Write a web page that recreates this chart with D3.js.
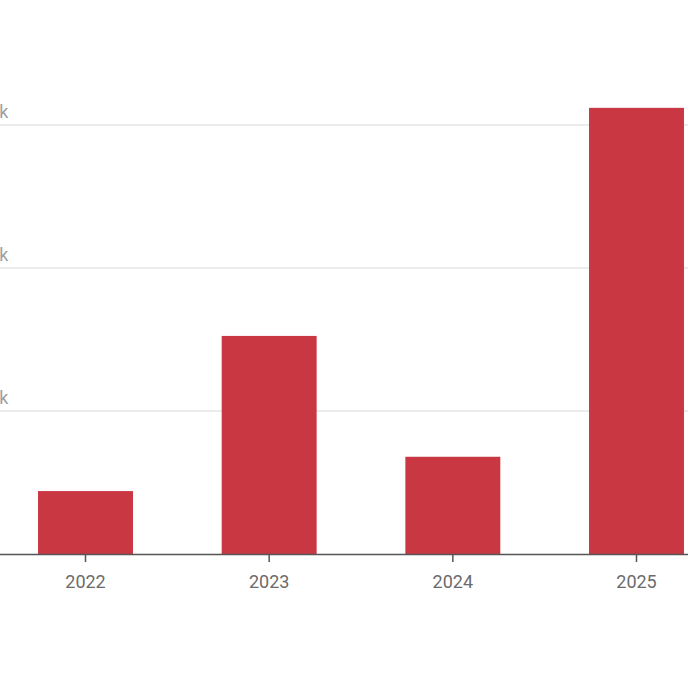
<!DOCTYPE html>
<html><head><meta charset="utf-8">
<script src="https://cdn.jsdelivr.net/npm/d3@7"></script>
<style>html,body{margin:0;padding:0;background:#fff;overflow:hidden}svg{display:block}</style>
</head><body>
<svg id="c" width="688" height="688"></svg>
<script>
const categories = ["2022","2023","2024","2025"];
const values = [440, 1525, 680, 3120];
const yTicks = [1000, 2000, 3000];
const yTickLabels = ["1k","2k","3k"];

const svg = d3.select("#c");
const x = d3.scaleBand().domain(categories).range([0, 722]).paddingInner(0.483).paddingOuter(0.207).align(0.5);
const y = d3.scaleLinear().domain([0, 3000]).range([554, 125]);

// gridlines
svg.append("g").selectAll("line").data(yTicks).join("line")
  .attr("x1", -40).attr("x2", 700)
  .attr("y1", d => y(d)).attr("y2", d => y(d))
  .attr("stroke", "#e6e6e6").attr("stroke-width", 1.5);

svg.append("g").selectAll("text").data(yTicks).join("text")
  .attr("x", 8.5).attr("y", d => y(d) - 7)
  .attr("text-anchor", "end")
  .attr("font-family", "Roboto, sans-serif").attr("font-size", 18)
  .attr("fill", "#a0a0a0")
  .text((d, i) => yTickLabels[i]);

// bars
svg.append("g").selectAll("rect").data(categories).join("rect")
  .attr("x", d => x(d)).attr("width", x.bandwidth())
  .attr("y", (d, i) => y(values[i])).attr("height", (d, i) => y(0) - y(values[i]))
  .attr("fill", "#c93742");

// x axis
const xa = svg.append("g").attr("transform", `translate(0,${y(0)})`)
  .call(d3.axisBottom(x).tickSize(8).tickPadding(13).tickSizeOuter(0));
xa.select(".domain").remove();
xa.append("line").attr("x1", -40).attr("x2", 700).attr("y1", 0.5).attr("y2", 0.5)
  .attr("stroke", "#555").attr("stroke-width", 1.5);
xa.selectAll(".tick line").attr("stroke", "#555").attr("stroke-width", 1.5);
xa.selectAll(".tick text").attr("font-family", "Roboto, sans-serif").attr("font-size", 18).attr("fill", "#6b6b6b");
</script>
</body></html>
